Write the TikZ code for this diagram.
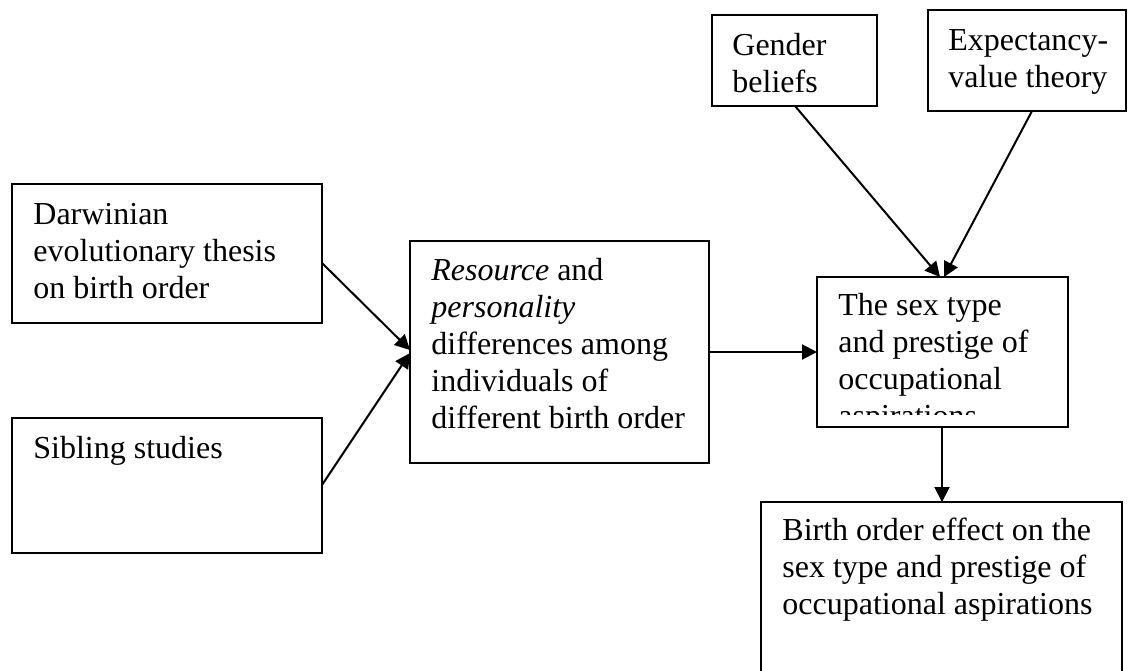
\documentclass[tikz,border=0pt]{standalone}
\usepackage{fontspec}
\setmainfont{Liberation Serif}
\usetikzlibrary{arrows.meta,calc}
\newcommand\boxlines[1]{\parbox[t]{200pt}{\raggedright #1}}
\tikzset{
  box/.style={draw, line width=1pt, rectangle, anchor=north west,
    inner sep=0pt, outer sep=0pt},
  boxtext/.style={anchor=base west, inner sep=0pt,
    font=\fontsize{16pt}{18.5pt}\selectfont},
  link/.style={line width=1pt, -{Triangle[length=7.5pt,width=7.5pt]}},
}
\begin{document}
\begin{tikzpicture}[x=0.5pt,y=-0.5pt]
\useasboundingbox (0,0) rectangle (1128,670);

% boxes
\node[box, minimum width=155pt, minimum height=69.5pt] (dar) at (12,184) {};
\node[box, minimum width=155pt, minimum height=67.5pt] (sib) at (12,418) {};
\node[box, minimum width=149.5pt, minimum height=111pt] (mid) at (410,241) {};
\node[box, minimum width=125.5pt, minimum height=75pt] (sex) at (817,277) {};
\node[box, minimum width=82.5pt, minimum height=45.5pt] (gen) at (712,15) {};
\node[box, minimum width=99pt, minimum height=50.5pt] (exp) at (928,10) {};
\node[box, minimum width=180.5pt, minimum height=100pt] (eff) at (761,502) {};

% texts
\node[boxtext] (darT) at ($(dar.north west)+(21,40)$)
  {\boxlines{Darwinian\\evolutionary thesis\\on birth order}};
\node[boxtext] (sibT) at ($(sib.north west)+(21,40)$)
  {\boxlines{Sibling studies}};
\node[boxtext] (midT) at ($(mid.north west)+(21,39)$)
  {\boxlines{\textit{Resource} and\\\textit{personality}\\differences among\\individuals of\\different birth order}};
\node[boxtext] (genT) at ($(gen.north west)+(20,40)$)
  {\boxlines{Gender\\beliefs}};
\node[boxtext] (expT) at ($(exp.north west)+(20,40)$)
  {\boxlines{Expectancy-\\value theory}};
\node[boxtext] (effT) at ($(eff.north west)+(21,38)$)
  {\boxlines{Birth order effect on the\\sex type and prestige of\\occupational aspirations}};
\begin{scope}
  \clip (sex.north west) rectangle ($(sex.south east)+(0,-13)$);
  \node[boxtext] (sexT) at ($(sex.north west)+(21,38)$)
    {\boxlines{The sex type\\and prestige of\\occupational\\aspirations}};
\end{scope}

% connectors
\draw[link] ($(dar.north east)+(0,79)$) -- ($(mid.north west)+(0,109)$);
\draw[link] ($(sib.north east)+(0,67)$) -- ($(mid.north west)+(0,112)$);
\draw[link] ($(mid.north east)+(0,111)$) -- ($(sex.north west)+(0,75)$);
\draw[link] ($(gen.south west)+(83,0)$) -- ($(sex.north west)+(123,0)$);
\draw[link] ($(exp.south west)+(104,0)$) -- ($(sex.north west)+(127,0)$);
\draw[link] ($(sex.south west)+(125,0)$) -- ($(eff.north west)+(181,0)$);
\end{tikzpicture}
\end{document}
